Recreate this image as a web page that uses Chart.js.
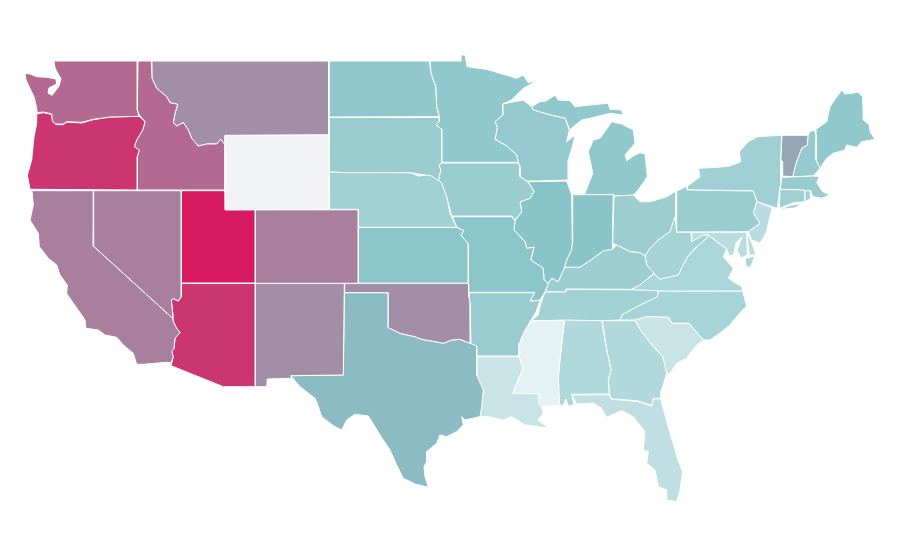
<!DOCTYPE html>
<html><head><meta charset="utf-8">
<style>html,body{margin:0;padding:0;background:#fff}canvas{display:block}</style>
<script src="https://cdn.jsdelivr.net/npm/chart.js@4"></script>
</head><body><canvas id="c" width="900" height="560"></canvas>
<script>
// State index values (null = no data)
const stateNames = ["Washington","Oregon","Idaho","Montana","Wyoming","Nevada","California","Utah","Arizona","Colorado","New Mexico","Oklahoma","Texas","North Dakota","South Dakota","Nebraska","Kansas","Minnesota","Iowa","Missouri","Arkansas","Louisiana","Mississippi","Alabama","Georgia","South Carolina","Florida","Tennessee","Kentucky","Virginia","Virginia (Eastern Shore)","West Virginia","Ohio","Indiana","Illinois","Wisconsin","Michigan (upper)","Michigan (lower)","Pennsylvania","New York","Long Island","New Jersey","Delaware","Maryland","Connecticut","Rhode Island","Massachusetts","Vermont","New Hampshire","Maine","North Carolina"];
const stateValues = [77,92,77,66,null,70,70,100,92,70,66,66,52.5,46,41,37,49,46,41,49,42,17,3,29,29,17,22,36,40,32,32,35,40,50,50,44,46,46,41,38,38,25,25,25,38,38,42,59,44,46,34];
const colorStopValues = [0,50,100];
const colorStops = [[234,245,246],[136,196,200],[216,27,96]];
const noDataColor = "#f2f3f5";

// State outlines in map units
const wa=[[54,61],[137.3,61],[137.3,110],[139,116.3],[110,117],[93.3,119.3],[81.7,122.3],[66.7,121.7],[63.3,124],[55,124],[52.3,120.7],[51.7,114],[43.3,112],[37.3,112.7],[36,105],[34,96.7],[30.7,90],[26,80],[25,73.3],[30,74],[36.7,76.7],[46.7,77.3],[56,79],[56.5,84],[49,88],[48,93],[52,95.5],[59,86],[61,79],[57.7,73],[55,68]];
const or=[[36.7,114],[43.3,112.7],[51.7,114.3],[52.7,121.3],[56.7,124.7],[63.3,124.7],[66.7,122],[81.7,123],[93.3,119.7],[110,117],[139.3,116.3],[145,121.7],[142.7,130],[136.7,140],[134.3,146.7],[139.3,150],[137.3,156.7],[137.3,190],[30,189.3],[27.3,175],[31.7,160],[34,136.7],[36.7,123.3]];
const id=[[138,61],[151.3,61],[152,78.3],[156.7,88.3],[166.7,96.7],[170,102.7],[177.7,104.3],[175,113.3],[173.3,122.7],[176.7,126],[183.3,122.7],[188.3,130],[191.7,138.3],[198.3,146],[206.7,144],[216.7,144],[220.7,139.3],[225,144.7],[225,190],[137.3,190],[137.3,156.7],[139.3,150],[134.3,146.7],[136.7,140],[142.7,130],[145,121.7],[139.3,115],[137.3,110]];
const mt=[[152,61],[328.7,61],[328.7,134.7],[225.3,135.3],[225,144.7],[220.7,139.3],[216.7,144],[206.7,144],[198.3,146],[191.7,138.3],[188.3,130],[183.3,122.7],[176.7,126],[173.3,122.7],[175,113.3],[177.7,104.3],[170,102.7],[166.7,96.7],[156.7,88.3],[152,78.3]];
const wy=[[225.3,135.3],[328.7,134.7],[329.3,209.3],[225.3,209.8]];
const nv=[[93.7,190.7],[181.3,190.7],[181.3,296.7],[178.3,301],[173.3,298.7],[171.3,300],[172.7,313.3],[172.7,318.3],[93.3,246]];
const ca=[[32,190.7],[93.7,190.7],[93.3,246],[172.7,318.3],[173.3,321.7],[176.7,328.3],[180,332.7],[175,338.3],[174,348.3],[171.7,351.7],[173.3,356.7],[171,362.7],[166.7,362.3],[143.3,364.3],[136.7,364.3],[133.3,353.3],[123.3,345],[116.7,337.3],[105,335],[98.3,330],[86,328.3],[85,320],[81.7,315],[73.3,303.3],[66.7,293.3],[67.3,285],[60,275],[56.7,265],[48.3,258.3],[39.3,246.7],[38.3,233.3],[30,220],[33.3,205]];
const ut=[[181.3,190.7],[225,190.7],[225.3,209.8],[255.3,209.8],[255.3,283],[181.3,283]];
const az=[[181.3,283.5],[255.3,283.5],[255.3,386.7],[223.3,386.7],[171,365.7],[173.3,356.7],[171.7,351.7],[174,348.3],[175,338.3],[180,332.7],[176.7,328.3],[173.3,321.7],[172.7,313.3],[171.3,300],[173.3,298.7],[178.3,301],[181.3,296.7]];
const co=[[255.3,209.8],[358.3,209.8],[358.3,283.3],[255.3,283.3]];
const nm=[[255.3,283.3],[344.3,283.3],[343.3,375],[290.7,375.7],[291.7,378.3],[267.3,379],[266.7,386.7],[255.3,386.7]];
const ok=[[344.7,283.3],[468.3,283.3],[468.7,296],[470,303.3],[470.3,343.3],[460,339.3],[451.7,340],[443.3,343.3],[431.7,341],[421.7,339.3],[415,336.7],[400,333.3],[395,330.7],[388.3,327.7],[388.3,292.7],[344.3,292.7]];
const tx=[[344.5,292.7],[388.3,292.7],[388.3,327.7],[395,330.7],[400,333.3],[415,336.7],[421.7,339.3],[431.7,341],[443.3,343.3],[451.7,340],[460,339.3],[470,343.3],[476.7,346],[476.7,375],[483.3,390],[481.7,406.7],[480,416.7],[465,420],[461.7,416.7],[463.3,425],[456.7,431.7],[446.7,436.7],[440,435],[436.7,443.3],[426.7,451.7],[426.7,461.7],[424,466.7],[425,476.7],[428.3,487.3],[415,484],[403.3,478.3],[396.7,465],[390,450],[380,435],[368.3,416],[355,414.3],[346.7,420],[341.7,430],[333.3,425.7],[321.7,416.7],[318.3,406.7],[315,398.3],[300,386.7],[290.7,375.7],[343.3,375]];
const nd=[[329,61],[429.3,61],[431,73.3],[435.7,86.7],[436.7,106.7],[439.3,116.7],[329.3,117]];
const sd=[[329.3,117.5],[439.3,117.5],[439.3,121.7],[436,125],[441.7,129.3],[441.7,163.3],[439,165],[440.7,170],[438.3,180.7],[431.7,176],[420,174.3],[410.7,172.7],[346,172.7],[329.3,171.7]];
const ne=[[329.3,172],[410.7,172.7],[418.3,176],[430,174.7],[438.3,179.3],[441.7,183.3],[446.7,196.7],[450,213.3],[456.7,227.3],[358.3,227.3],[358.3,209.3],[329.5,209.3]];
const ks=[[358.3,227.5],[456.7,227.5],[464,230.7],[460.7,235],[468.3,244],[468.3,283.3],[358.3,283.3]];
const mn=[[430,61],[461,61],[461,55],[465,55],[467.3,66.7],[486.7,69.3],[500,73.3],[516.7,78.3],[523.3,75],[528.3,82.7],[538.3,80],[523.3,88.3],[511.7,100],[502.7,104],[502.7,115],[495,121.7],[497.3,127.3],[495,139.3],[506.7,146],[516.7,155],[518.3,162.3],[441.7,162.3],[441.7,129.3],[436,125],[439.3,116.7],[436.7,106.7],[435.7,86.7],[431,73.3]];
const ia=[[441.7,163],[518.3,163],[520,166.7],[520,176.7],[528,182],[534,191.7],[530,198.3],[520,201.7],[521.7,211.7],[515,220],[511.7,216],[451.7,216],[448.3,203.3],[441.7,183.3],[438.3,180],[440.7,170],[439,165]];
const mo=[[452.7,216.7],[511.7,216.7],[515,220.7],[514,230],[525,241.7],[526.7,248.3],[534,247.3],[530.7,260],[543.3,268.3],[544,280],[548.3,283.3],[545,291.7],[540,300],[530,301],[535,292.3],[468.7,292.3],[468.3,244],[460.7,235],[464,230.7],[456.7,227.3]];
const ar=[[468.7,292.8],[535,292.8],[530,301],[540,300.5],[536,312],[530.5,321],[523,334],[519.5,343],[519,356],[476.7,356],[476,346.7],[471,346],[470,303]];
const la=[[476.7,356.7],[519.3,356.7],[522.7,368.3],[512.7,393.3],[539.3,394],[538.3,403.3],[541.7,406.7],[543.3,413.3],[538,420],[549,428.3],[533.3,426],[525,425],[511.7,416.7],[503.3,420],[488.3,416.7],[480,416.7],[481.7,406.7],[483.3,390],[476.7,375]];
const ms=[[531.5,321],[564,320],[560.7,353.3],[558.3,376.7],[559.3,405],[541.7,406.7],[538.3,403.3],[539.3,394],[512.7,394],[522.7,368.3],[519.3,356.7],[519.5,343],[523,334]];
const al=[[564.7,320],[601.7,320.7],[606.7,350],[611,370],[608.3,380],[609.3,394],[571.7,394.3],[574,405],[568.3,406],[565.7,399],[563.3,405.3],[559.3,405],[558.3,376.7],[560.7,353.3]];
const ga=[[602.3,320.7],[635,320.7],[640,329.3],[653.3,346.7],[662.7,356.7],[666.7,373.3],[661.7,390],[661,398.3],[653.3,398.3],[651.7,405.3],[636.7,400.7],[611.7,398.7],[609.3,394],[608.3,380],[611,370],[606.7,350]];
const sc=[[635,320],[646.7,316.7],[668.3,317.3],[672.3,323.3],[689,323.3],[703.3,340],[695,346.7],[686.7,358.3],[676.7,363.3],[670,373.3],[666.7,373.3],[662.7,356.7],[653.3,346.7],[640,329.3]];
const fl=[[571.7,395],[609.3,394.7],[611.7,399.3],[636.7,401.3],[651.7,406],[653.3,398.7],[661,399],[661.7,403],[670,433],[678,460],[682.7,471.7],[680,490],[676.7,501.7],[666.7,500],[666.7,490],[658.3,486.7],[655,470],[646.7,463.3],[648.3,451.7],[643.3,450],[645,431.7],[633.3,416.7],[621.7,410.7],[606.7,417.3],[601.7,408.3],[593.3,403],[576.7,404]];
const tn=[[545,292],[566,292],[566,289.3],[631.7,289.8],[658.3,290.7],[657.3,296.7],[640,305],[621.7,315],[620,320],[601.7,320.7],[531.5,320.5],[538,315],[541,303]];
const ky=[[548.3,283.3],[551.7,278.3],[558.3,281.7],[564.5,268],[566,267.3],[580,267.3],[590,260.7],[603.3,251],[612.7,249.3],[616.7,245],[630,251.7],[640,252.7],[645,256],[646.7,265],[654,273.3],[640,285],[631.7,289.3],[566,289],[566,292],[545.5,292]];
const va=[[631.7,290],[654,274],[660,279.3],[678.3,275],[686.7,258.3],[693.3,250],[706.7,238.3],[708.3,235],[716.7,241.7],[726.7,249],[723.3,256.7],[733.3,268.3],[728.3,278.3],[741.7,286.7],[742.7,291],[658.3,291]];
const vaES=[[745,258.5],[755,256],[750,268],[746,266]];
const wv=[[645,256],[650,248.3],[658.3,240],[670,231.7],[675,216.7],[676.7,232.3],[691,232.3],[691.7,241.7],[703.3,235],[708.3,235],[706.7,238.3],[693.3,250],[686.7,258.3],[678.3,275],[660,279.3],[654,274],[646.7,265]];
const oh=[[614,196],[633.3,195],[640,201.7],[650,201.7],[666.7,196.7],[676,191],[676,216.7],[670,231.7],[658.3,240],[650,248.3],[645,256],[640,252.7],[630,251.7],[616.7,245],[612.7,243.3]];
const inn=[[572.7,194.7],[613.3,194.7],[612.3,243.3],[612.7,249.3],[603.3,251],[590,260.7],[580,267.3],[566,267.3],[564.5,268],[566.7,260],[571.7,250],[572.3,243.3]];
const il=[[528.3,181.7],[566.7,181],[571.7,195],[572.3,243.3],[571.7,250],[566.7,260],[564.5,268],[558.3,281.7],[551.7,278.3],[548.3,283.3],[544,280],[543.3,268.3],[530.7,260],[534,247.3],[526.7,248.3],[525,241.7],[514,230],[515,220.7],[521.7,211.7],[520,201.7],[530,198.3],[534,191.7]];
const wi=[[502.7,104],[523.3,100],[531.7,106.7],[533.3,110],[550,115],[565,118.3],[569.3,130],[566.7,141.7],[575,135],[573.3,143.3],[568.3,160],[568.3,180],[540,181],[526.7,181],[520,176.7],[520,166.7],[518.3,162.3],[516.7,155],[506.7,146],[495,139.3],[497.3,127.3],[495,121.7],[502.7,115]];
const miU=[[531.7,106.7],[540,101.7],[546.7,100.7],[555,95],[558.3,100],[570,100.7],[575,106.7],[590,105],[608.3,103.3],[610,109.3],[621.7,110],[622.7,115],[610,113.3],[603.3,115],[590,118.3],[581.7,120],[573.3,126.7],[570,130],[565,118.3],[550,115],[533.3,110]];
const miL=[[573.3,197.3],[583,195],[613.3,194.3],[615,196],[633.3,195.3],[638.3,190],[647.3,176.7],[645,154],[640,152.7],[633.3,156],[626.7,160.7],[625,155],[635,143.3],[633.3,130],[621.7,124],[611.7,121.7],[606,130],[600,138.3],[593.3,140],[588.3,151.7],[592.7,173.3],[585,193.3]];
const pa=[[676.7,191],[687.3,186],[687.3,190],[753.3,191],[756.7,201.7],[753.3,213.3],[760,223.3],[748.3,231.7],[676.7,232]];
const ny=[[687.3,190],[752.7,190.7],[757.3,201.7],[777.3,208.3],[780,186.7],[780.7,160],[781.7,135.3],[757.3,136.7],[748.3,141.7],[739.3,151.7],[740.7,161.7],[730,166],[718.3,167.3],[698.3,168.3],[700,176.7],[686.7,186.7]];
const li=[[778,209.5],[792,205],[802,203.5],[795,208]];
const nj=[[756.7,201.7],[772.3,207.7],[768.3,223.3],[766.7,231.7],[760,243.3],[751.7,240],[748.3,231.7],[760,223.3],[753.3,213.3]];
const de=[[746.7,231.7],[749.3,255],[756,255],[753.3,246.7]];
const md=[[691,232.3],[746.7,232.3],[747.3,255],[741,258],[737,250],[742,237],[736,243],[733.5,255],[729,256],[726.7,249],[716.7,241.7],[708.3,235],[703.3,235],[691.7,241.7]];
const ct=[[780,189.3],[804.3,190],[805,201.7],[793.3,202.7],[779.3,208.3]];
const ri=[[805,190.7],[810,190.7],[810.7,198.3],[805,202]];
const ma=[[781.7,177.3],[813.3,176],[819.3,176.7],[816.7,182.7],[822.7,191.7],[830,195],[821.7,198.3],[813.3,196.7],[810,190.7],[780,189.3]];
const vt=[[782,135.3],[808,135.3],[807.3,145],[801.7,148.3],[796,163.3],[792.7,176.7],[782.7,176],[782.7,161.7],[780.7,160]];
const nh=[[810,131.7],[814.3,130],[816,135],[816,160],[820,168.3],[813.3,176],[792.7,176.7],[796,163.3],[801.7,148.3],[807.3,145],[808,135.3]];
const me=[[816,129.3],[826.7,121.7],[830,106.7],[833.3,101.7],[841.7,90],[845,94],[858.3,92.3],[862.7,96.7],[863.3,120],[869.3,125],[870,131.7],[875,139.3],[861.7,141.7],[856.7,147.3],[846.7,145],[845,150],[833.3,153.3],[826.7,158.3],[820,168.3],[816,160]];
const nc=[[658.3,290.7],[742.7,291],[745,300],[746.7,306],[738,315],[730,325],[720,333],[710,340],[703.3,340],[689,323.3],[672.3,323.3],[668.3,317.3],[646.7,316.7],[635,320],[620,320],[621.7,315],[640,305],[657.3,296.7]];
const outlines=[wa,or,id,mt,wy,nv,ca,ut,az,co,nm,ok,tx,nd,sd,ne,ks,mn,ia,mo,ar,la,ms,al,ga,sc,fl,tn,ky,va,vaES,wv,oh,inn,il,wi,miU,miL,pa,ny,li,nj,de,md,ct,ri,ma,vt,nh,me,nc];

function valueColor(v){
  if(v===null) return noDataColor;
  let i=v>=colorStopValues[1]?1:0;
  const t=(v-colorStopValues[i])/(colorStopValues[i+1]-colorStopValues[i]);
  const c=colorStops[i].map((a,k)=>Math.round(a+(colorStops[i+1][k]-a)*t));
  return `rgb(${c[0]},${c[1]},${c[2]})`;
}
new Chart(document.getElementById('c'),{
  type:'scatter',
  data:{datasets:stateNames.map((n,i)=>({
    label:n,
    data:[...outlines[i],outlines[i][0]].map(p=>({x:p[0],y:p[1]})),
    showLine:true,fill:'shape',tension:0,
    backgroundColor:valueColor(stateValues[i]),
    borderColor:'#ffffff',borderWidth:1,borderJoinStyle:'round',
    pointRadius:0,pointHoverRadius:0,clip:false
  }))},
  options:{
    responsive:false,animation:false,devicePixelRatio:1,
    layout:{padding:0},
    plugins:{legend:{display:false},tooltip:{enabled:false},title:{display:false}},
    scales:{
      x:{type:'linear',min:0,max:900,display:false},
      y:{type:'linear',min:0,max:560,reverse:true,display:false}
    }
  }
});
</script></body></html>
